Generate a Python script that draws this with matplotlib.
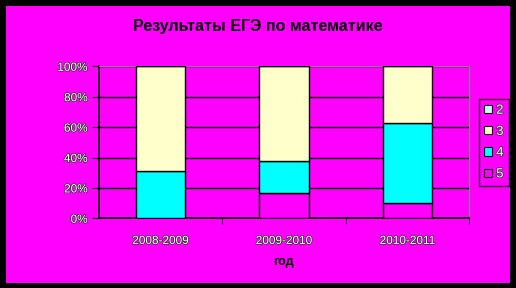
import numpy as np
import matplotlib.pyplot as plt
import matplotlib.patheffects as pe
from matplotlib.patches import Patch, Rectangle

# данные (проценты)
years = ["2008-2009", "2009-2010", "2010-2011"]
grade_5 = [0, 16.5, 10]
grade_4 = [31, 21, 53]
grade_3 = [69, 62.5, 37]
grade_2 = [0, 0, 0]

magenta = "#FF00FF"
colors = {"2": "#CCFFFF", "3": "#FFFFCC", "4": "#00FFFF", "5": magenta}

fig = plt.figure(figsize=(5.16, 2.88), dpi=100)
fig.patch.set_facecolor("black")
# розовая область внутри черной рамки
fig.patches.append(Rectangle((6 / 516, 5 / 288), 504 / 516, 277 / 288,
                             transform=fig.transFigure, facecolor=magenta,
                             edgecolor="none", zorder=-10))

ax = fig.add_axes([98.7 / 516, 1 - 218.3 / 288, 370.6 / 516, 152 / 288])
ax.set_facecolor(magenta)

x = np.arange(len(years))
w = 0.4
bottom = np.zeros(len(years))
for name, vals in [("5", grade_5), ("4", grade_4), ("3", grade_3), ("2", grade_2)]:
    ax.bar(x, vals, w, bottom=bottom, color=colors[name], edgecolor="black",
           linewidth=1, zorder=3)
    bottom += np.array(vals)

ax.set_xlim(-0.5, 2.5)
ax.set_ylim(0, 100)
ax.set_yticks(np.arange(0, 101, 20))
ax.set_yticklabels([f"{v}%" for v in range(0, 101, 20)])
ax.yaxis.grid(True, color="black", linewidth=1, zorder=0)
ax.set_axisbelow(True)

ax.set_xticks(x)
ax.set_xticklabels(years)
ax.set_xticks([0.5, 1.5, 2.5], minor=True)
ax.tick_params(axis="x", which="major", length=0, pad=12)
ax.tick_params(axis="x", which="minor", length=4, color="black", direction="out")
ax.tick_params(axis="y", length=5, color="black", direction="out", pad=3)

for s in ["top", "right"]:
    ax.spines[s].set_color("#808080")
for s in ["left", "bottom"]:
    ax.spines[s].set_color("black")
    ax.spines[s].set_linewidth(1.2)

outline = [pe.withStroke(linewidth=1.0, foreground="#303030")]
for lab in ax.get_xticklabels() + ax.get_yticklabels():
    lab.set_color("white")
    lab.set_fontsize(8.5)
    lab.set_fontfamily("Liberation Sans")
    lab.set_path_effects(outline)

fig.text(0.5, 1 - 26 / 288, "Результаты ЕГЭ по математике", ha="center",
         va="center", fontsize=11.5, fontweight="bold", family="Liberation Sans")
fig.text(283 / 516, 1 - 262 / 288, "год", ha="center", va="center",
         fontsize=9, fontweight="bold", family="Liberation Sans")

handles = [Patch(facecolor=colors[n], edgecolor="black", linewidth=0.8)
           for n in ["2", "3", "4", "5"]]
leg = fig.legend(handles, ["2", "3", "4", "5"], loc="center left",
                 bbox_to_anchor=(479 / 516, 1 - 142.5 / 288),
                 frameon=True, fancybox=False, handlelength=0.6, handleheight=0.6,
                 handletextpad=0.3, borderpad=0.4, borderaxespad=0,
                 labelspacing=0.7,
                 prop={"family": "Liberation Sans", "size": 9.5})
leg.get_frame().set_facecolor(magenta)
leg.get_frame().set_edgecolor("black")
leg.get_frame().set_linewidth(1)
for t in leg.get_texts():
    t.set_color("white")
    t.set_path_effects(outline)

fig.savefig("out.png", dpi=100, facecolor=fig.get_facecolor())
